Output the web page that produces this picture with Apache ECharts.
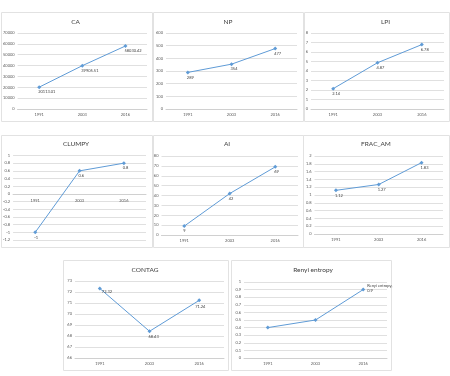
<!DOCTYPE html>
<html><head><meta charset="utf-8">
<script src="https://cdn.jsdelivr.net/npm/echarts@6/dist/echarts.min.js"></script>
<style>html,body{margin:0;padding:0;background:#fff}#c{width:450px;height:376px}</style>
</head><body><div id="c"></div>
<script>
const years = ['1991', '2003', '2016'];
const caValues = [20113.01, 39905.51, 58030.42];
const npValues = [289, 354, 477];
const lpiValues = [2.14, 4.87, 6.78];
const clumpyValues = [-1, 0.6, 0.8];
const aiValues = [9, 42, 69];
const fracValues = [1.12, 1.27, 1.83];
const contagValues = [72.32, 68.43, 71.24];
const renyiValues = [0.4, 0.5, 0.9];

const titles = ['CA', 'NP', 'LPI', 'CLUMPY', 'AI', 'FRAC_AM', 'CONTAG', 'Renyi entropy'];
const allValues = [caValues, npValues, lpiValues, clumpyValues, aiValues, fracValues, contagValues, renyiValues];
const yMin = [0, 0, 0, -1.2, 0, 0, 66, 0];
const yMax = [70000, 600, 8, 1, 80, 2, 73, 1];
const yStep = [10000, 100, 1, 0.2, 10, 0.2, 1, 0.1];

// layout (px)
const grids = [
  {left: 16, top: 33, width: 131, height: 76},
  {left: 166, top: 33, width: 131, height: 76},
  {left: 311, top: 33, width: 133, height: 76},
  {left: 13, top: 155.5, width: 133, height: 84.5},
  {left: 161.5, top: 156, width: 136.5, height: 79},
  {left: 314.5, top: 156, width: 128.5, height: 78},
  {left: 75, top: 281, width: 149, height: 77},
  {left: 244, top: 282, width: 143, height: 76}
];
const panels = [
  [1, 12, 151, 109], [153, 12, 150, 109], [304, 12, 145, 109],
  [1, 135, 151, 112], [153, 135, 150, 112], [303, 135, 146, 112],
  [63, 260, 165, 110], [231, 260, 160, 110]
];
const titlePos = [[75.5, 22], [228, 22], [385.5, 22], [76, 144], [227, 144], [376, 144], [145, 270], [313, 270]];

const lineColor = '#5f9bd6';
const font = 'Lato, "Liberation Sans", sans-serif';

const xAxis = [], yAxis = [], series = [], graphic = [];
panels.forEach(p => graphic.push({type: 'rect', shape: {x: p[0] + 0.5, y: p[1] + 0.5, width: p[2], height: p[3]}, style: {fill: 'none', stroke: '#e2e2e2', lineWidth: 1}, silent: true, z: -1}));
titles.forEach((t, i) => graphic.push({type: 'text', x: titlePos[i][0], y: titlePos[i][1], style: {text: t, fontSize: 6.5, fontFamily: font, fill: '#404040', textAlign: 'center', textVerticalAlign: 'middle'}}));

allValues.forEach((vals, i) => {
  // x axis crosses the value axis at 0 (Excel style) when 0 is inside the range
  const crossOffset = (yMin[i] < 0 && yMax[i] > 0) ? -((0 - yMin[i]) / (yMax[i] - yMin[i])) * grids[i].height : 0;
  xAxis.push({
    type: 'category', gridIndex: i, data: years, boundaryGap: true, position: 'bottom',
    offset: crossOffset,
    axisLine: {show: true, onZero: false, lineStyle: {color: '#d0d0d0', width: 1}},
    axisTick: {show: false},
    axisLabel: {fontSize: 4, color: '#595959', fontFamily: font, margin: i === 3 ? 5 : 4}
  });
  yAxis.push({
    type: 'value', gridIndex: i, min: yMin[i], max: yMax[i], interval: yStep[i],
    axisLine: {show: false}, axisTick: {show: false},
    splitLine: {lineStyle: {color: '#e0e0e0', width: 1}},
    axisLabel: {fontSize: 4, color: '#595959', fontFamily: font, margin: 3,
      formatter: v => String(Math.round(v * 100) / 100)}
  });
  const labelCfg = {show: true, position: 'bottom', align: 'left', distance: 1, offset: [-1, 0], fontSize: 4, color: '#404040', fontFamily: font};
  let data = vals.slice();
  if (i === 6) {
    data = vals.map((v, k) => k === 0 ? {value: v, label: {position: 'right', align: 'left', offset: [-1, 3]}} : (k === 2 ? {value: v, label: {offset: [-4, 1]}} : v));
  }
  if (i === 7) {
    data = vals.map((v, k) => k === 2 ? {value: v, label: {show: true, position: 'right', distance: 2, offset: [0, -1], formatter: 'Renyi entropy,\n0.9', lineHeight: 5}} : {value: v, label: {show: false}});
  }
  series.push({
    type: 'line', xAxisIndex: i, yAxisIndex: i, data: data,
    symbol: 'diamond', symbolSize: 4, showSymbol: true,
    lineStyle: {color: lineColor, width: 1}, itemStyle: {color: lineColor},
    label: labelCfg, animation: false
  });
});

const chart = echarts.init(document.getElementById('c'), null, {renderer: 'canvas'});
chart.setOption({
  animation: false,
  grid: grids.map(g => Object.assign({containLabel: false}, g)),
  xAxis, yAxis, series, graphic
});
</script></body></html>
